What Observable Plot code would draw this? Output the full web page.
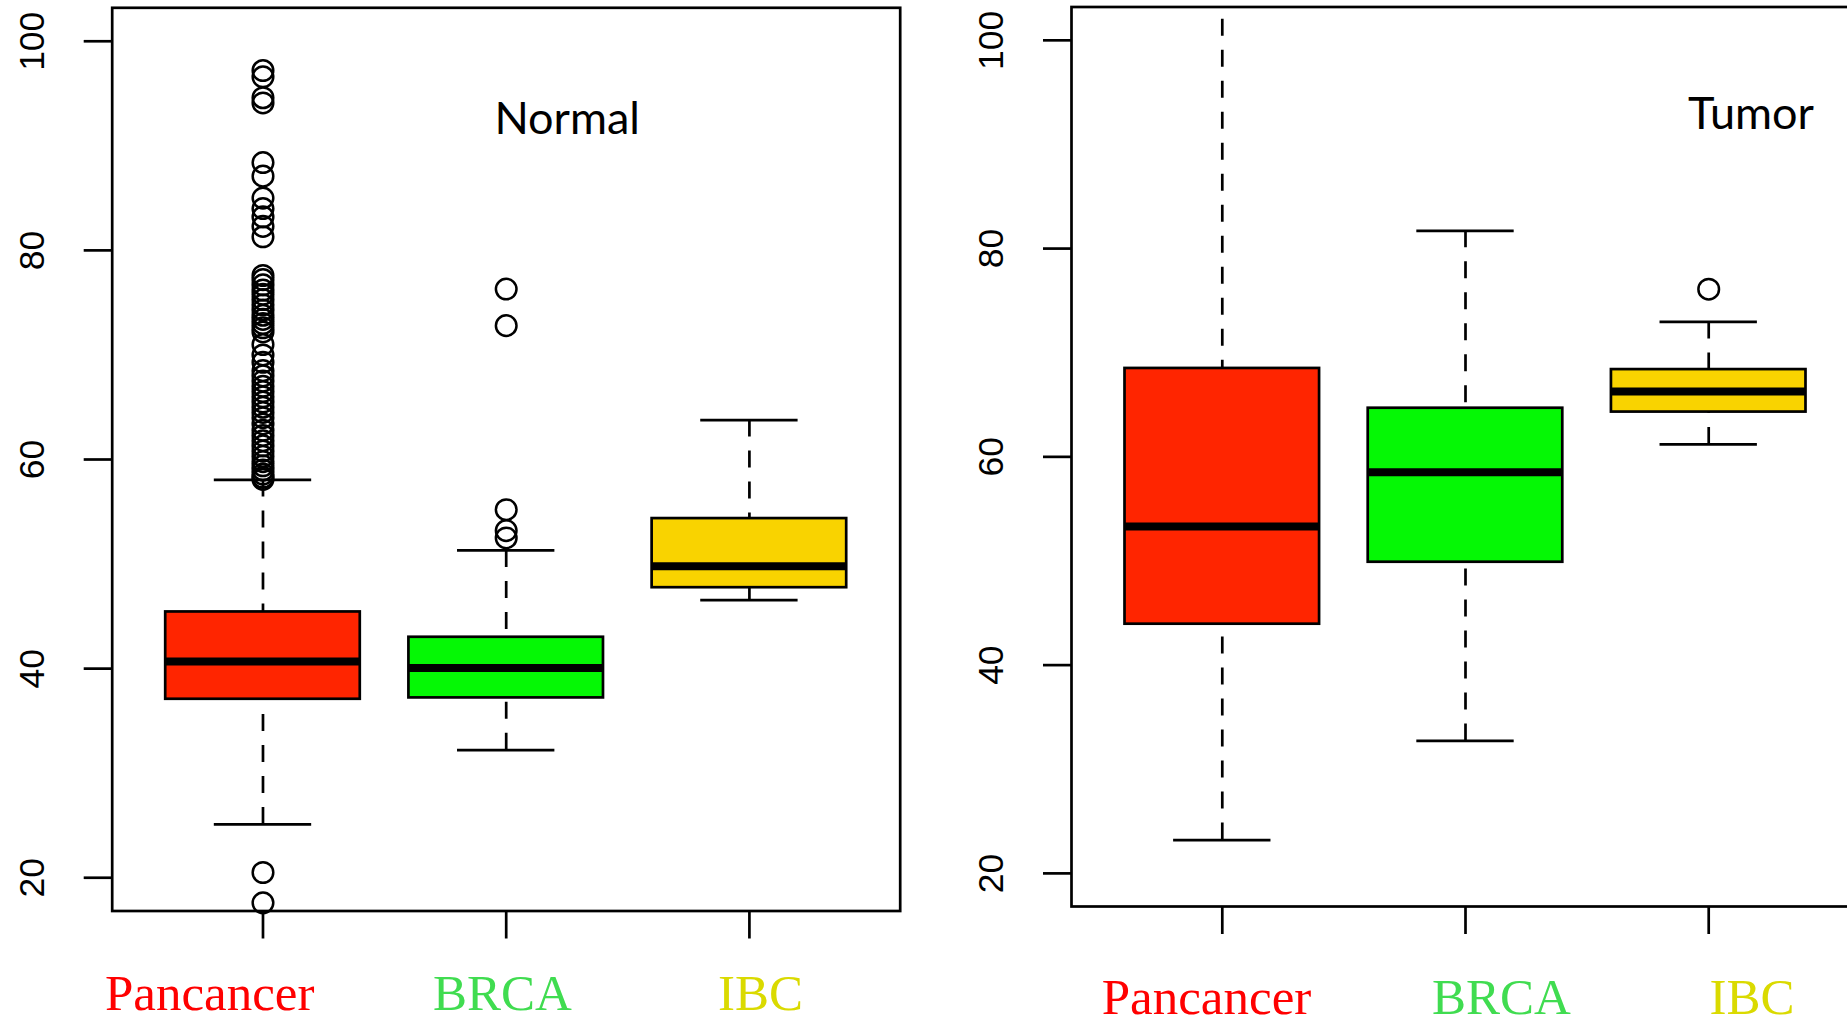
<!DOCTYPE html>
<html><head><meta charset="utf-8">
<script src="https://cdn.jsdelivr.net/npm/d3@7"></script>
<script src="https://cdn.jsdelivr.net/npm/@observablehq/plot@0.6"></script>
<style>
html,body{margin:0;padding:0;background:#fff;overflow:hidden;width:1847px;height:1025px;}
#root{position:relative;width:1847px;height:1025px;overflow:hidden;background:#fff;}
.panel{position:absolute;top:0;}
.overlay{position:absolute;left:0;top:0;pointer-events:none;}
</style></head><body><div id="root"></div>
<script>
// ---------- data ----------
const categories = ["Pancancer", "BRCA", "IBC"];
const yTicks = [20, 40, 60, 80, 100];
const panelTitles = ["Normal", "Tumor"];

// Normal panel (box statistics per category)
const normalLower  = [25.1, 32.2, 46.55];
const normalQ1     = [37.07, 37.2, 47.74];
const normalMedian = [40.69, 40.07, 49.8];
const normalQ3     = [45.42, 43.0, 54.35];
const normalUpper  = [58.05, 51.3, 63.77];
const normalOutliersPancancer = [97.2, 96.6, 94.6, 94.1, 88.4, 87.1, 85.0, 84.0, 83.2, 82.3, 81.3,
  77.6, 77.2, 76.7, 76.2, 75.8, 75.3, 74.8, 74.3, 73.8, 73.4, 73.0, 72.6, 72.2, 71.0, 70.0, 69.3,
  68.5, 68.0, 67.5, 67.0, 66.5, 66.0, 65.5, 65.0, 64.5, 64.0, 63.4, 62.8, 62.3, 61.8, 61.3, 60.8,
  60.3, 59.8, 59.4, 59.0, 58.6, 58.3, 58.1, 20.5, 17.6];
const normalOutliersBRCA = [76.3, 72.8, 55.2, 53.2, 52.5];
const normalOutliersIBC = [];

// Tumor panel
const tumorLower  = [23.2, 32.72, 61.19];
const tumorQ1     = [43.93, 49.88, 64.3];
const tumorMedian = [53.32, 58.53, 66.27];
const tumorQ3     = [68.49, 64.67, 68.38];
const tumorUpper  = [105.0, 81.71, 72.96];
const tumorOutliersPancancer = [];
const tumorOutliersBRCA = [];
const tumorOutliersIBC = [76.1];

// ---------- styles ----------
const boxFill = ["#ff2500", "#05f805", "#f9d300"];
const labelColor = ["#ff0000", "#40dc50", "#dada00"];
const yDomain = [16.82, 103.2];
const LW = 2.7;

function panel(d, o) {
  const stats = categories.map((c, i) => ({cat: c, lo: d.lower[i], q1: d.q1[i], med: d.median[i], q3: d.q3[i], hi: d.upper[i]}));
  const pts = categories.flatMap((c, i) => d.outliers[i].map(v => ({cat: c, v})));
  const inner = 788;
  return Plot.plot({
    width: o.width, height: 1025,
    marginTop: o.top, marginBottom: 1025 - o.bottom,
    marginLeft: o.left, marginRight: o.width - o.left - inner,
    x: {type: "band", domain: categories, paddingInner: 0.2, paddingOuter: 0.22, round: false, axis: null, label: null},
    y: {domain: yDomain, axis: null, label: null},
    color: {domain: categories, range: boxFill},
    style: {background: "transparent", overflow: "visible"},
    marks: [
      Plot.ruleX(stats, {x: "cat", y1: "hi", y2: "q3", stroke: "#000", strokeWidth: LW, strokeDasharray: "17,14", clip: true}),
      Plot.ruleX(stats, {x: "cat", y1: "lo", y2: "q1", stroke: "#000", strokeWidth: LW, strokeDasharray: "17,14", clip: true}),
      Plot.tickY(stats, {x: "cat", y: "hi", insetLeft: 48.6, insetRight: 48.6, stroke: "#000", strokeWidth: LW, clip: true}),
      Plot.tickY(stats, {x: "cat", y: "lo", insetLeft: 48.6, insetRight: 48.6, stroke: "#000", strokeWidth: LW, clip: true}),
      Plot.barY(stats, {x: "cat", y1: "q1", y2: "q3", fill: "cat", stroke: "#000", strokeWidth: LW, inset: 0}),
      Plot.tickY(stats, {x: "cat", y: "med", stroke: "#000", strokeWidth: 8}),
      Plot.dot(pts, {x: "cat", y: "v", r: 10.3, stroke: "#000", strokeWidth: 2.5, fill: "none"}),
      Plot.frame({stroke: "#000", strokeWidth: LW}),
      Plot.axisY({ticks: yTicks, tickSize: 28, tickFormat: () => "", stroke: "#000", strokeWidth: LW, label: null}),
      Plot.text(yTicks, {y: t => t, text: t => String(t), frameAnchor: "left", rotate: -90, textAnchor: "middle",
        lineAnchor: "bottom", dx: -68.4, fontSize: 35.5, fontFamily: "Liberation Sans, Arial, sans-serif", fill: "#000"}),
      Plot.axisX({tickSize: 28, tickFormat: () => "", stroke: "#000", strokeWidth: LW, label: null})
    ]
  });
}

const root = document.getElementById("root");

const left = panel({lower: normalLower, q1: normalQ1, median: normalMedian, q3: normalQ3, upper: normalUpper,
  outliers: [normalOutliersPancancer, normalOutliersBRCA, normalOutliersIBC]},
  {width: 920, left: 111.7, top: 7.3, bottom: 910.5});
left.classList.add("panel"); left.style.left = "0px";
root.appendChild(left);

const right = panel({lower: tumorLower, q1: tumorQ1, median: tumorMedian, q3: tumorQ3, upper: tumorUpper,
  outliers: [tumorOutliersPancancer, tumorOutliersBRCA, tumorOutliersIBC]},
  {width: 919, left: 111, top: 6.5, bottom: 906});
right.classList.add("panel"); right.style.left = "960px";
root.appendChild(right);

// ---------- text overlay (titles and category labels) ----------
const svg = d3.create("svg").attr("class", "overlay").attr("width", 1847).attr("height", 1025);
const titlePos = [[567.2, 134], [1751, 129.3]];
panelTitles.forEach((t, i) => {
  svg.append("text").attr("x", titlePos[i][0]).attr("y", titlePos[i][1]).attr("text-anchor", "middle")
    .attr("font-family", "Lato, 'Open Sans', sans-serif").attr("font-size", 45).attr("fill", "#000").text(t);
});
const labelPos = [
  [[209.7, 1009.5], [502.5, 1009.5], [760.5, 1009.5]],
  [[1206.5, 1013.5], [1501.5, 1013.5], [1752, 1013.5]]
];
labelPos.forEach(row => row.forEach((p, i) => {
  svg.append("text").attr("x", p[0]).attr("y", p[1]).attr("text-anchor", "middle")
    .attr("font-family", "'Liberation Serif', 'Times New Roman', serif").attr("font-size", 51)
    .attr("fill", labelColor[i]).text(categories[i]);
}));
root.appendChild(svg.node());
</script>
</body></html>
